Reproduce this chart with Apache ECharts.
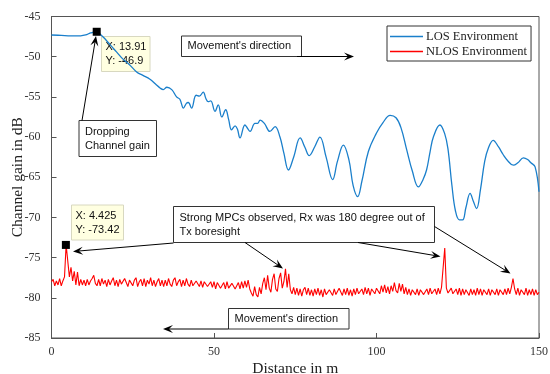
<!DOCTYPE html>
<html>
<head>
<meta charset="utf-8">
<script src="https://cdn.jsdelivr.net/npm/echarts@6/dist/echarts.min.js"></script>
<style>
  html, body { margin: 0; padding: 0; background: #fff; }
  #chart { width: 550px; height: 374px; }
</style>
</head>
<body>
<div id="chart"></div>
<script>
// LOS channel gain as [distance m, gain dB]
const losPoints = [
  [0, -47.3], [3, -47.35], [6, -47.4], [9, -47.4], [10.5, -47.3], [12, -47.05],
  [13.91, -46.9], [15, -47.2], [16.5, -47.8], [18, -48.5], [20, -49.4], [22, -50.3],
  [24, -51.0], [26.2, -51.9], [28, -52.3], [30.3, -52.8], [32, -53.4], [33.4, -53.9],
  [34.4, -54.1], [35.5, -53.8], [37, -54.1], [38.5, -55], [39.5, -55.3], [40.6, -56.4],
  [41.5, -55.8], [42.1, -55.7], [43.1, -56.4], [44.5, -54.8], [45.5, -54.9], [46.7, -54.4],
  [47.5, -55.2], [48.2, -55.6], [49, -55.5], [50.3, -56.8], [51.3, -56], [52.4, -57.5],
  [53.6, -56.6], [54.5, -57.8], [55.4, -59.1], [56.5, -58.6], [57.2, -59.0], [58, -60.1],
  [59.5, -58.5], [60.3, -58.9], [61.1, -59.3], [62.6, -58.3], [63.4, -58.3], [64.2, -57.9],
  [65.5, -58.3], [67.2, -59.3], [68.8, -58.7], [70.3, -60], [71.5, -62], [72.9, -64.1],
  [74.5, -62.5], [76.5, -60.1], [78, -61.3], [79.3, -62.3], [81, -61.2], [82.6, -60],
  [84.5, -62.5], [86.5, -65.3], [88, -63], [89.8, -61], [91.5, -62.8], [92.8, -66],
  [94.2, -67.4], [95.5, -65.5], [97.5, -61.8], [100, -59.5], [102, -58.2], [104.2, -57.3],
  [106, -57.6], [107.5, -58.8], [109.3, -61.6], [111, -64.2], [112.9, -66.2], [114.3, -65.3],
  [115.4, -64.1], [116.5, -61.8], [117.5, -60], [119.5, -58.5], [121, -59.6], [122, -61.5],
  [123.2, -66], [124.3, -69.2], [125.5, -70.3], [126.5, -70.3], [127.5, -68.8], [128.8, -67],
  [129.8, -68], [130.8, -68.9], [132, -66.5], [133.3, -63], [134.4, -61.4], [135.9, -60.4],
  [137.5, -61.2], [139, -62.2], [140.5, -63], [142.1, -63.5], [143.5, -63.2], [145.2, -62.6],
  [146.5, -62.8], [147.5, -63.2], [148.8, -63.7], [150, -66.8]
];

// NLOS channel gain, one reading every 0.5 m from 0 to 150 m
const nlosStep = 0.5;
const nlosGain = [
  -78.0, -77.7, -78.5, -77.9, -78.4, -77.6, -78.5, -77.9, -77.4, -73.4,
  -75.4, -77.4, -76.2, -77.9, -76.7, -78.4, -76.8, -78.5, -77.7, -78.4,
  -77.8, -78.5, -77.7, -78.4, -77.9, -77.6, -77.2, -78.2, -78.5, -77.7,
  -78.5, -77.6, -78.3, -77.8, -78.6, -77.7, -78.4, -77.9, -77.5, -78.5,
  -77.8, -78.6, -77.7, -78.3, -78.5, -77.6, -78.1, -78.6, -77.8, -77.6,
  -78.5, -77.8, -77.5, -78.6, -78.0, -77.7, -78.5, -77.6, -78.6, -77.8,
  -78.3, -77.5, -78.5, -77.8, -78.6, -78.0, -77.6, -78.5, -77.8, -78.6,
  -77.8, -78.5, -77.6, -78.3, -78.6, -77.8, -77.5, -78.5, -78.0, -77.7,
  -78.6, -77.8, -78.5, -77.6, -78.3, -78.6, -77.8, -78.5, -78.7, -77.9,
  -77.8, -78.6, -77.9, -78.7, -78.0, -77.8, -78.6, -78.8, -78.0, -78.7,
  -78.0, -78.9, -78.1, -77.9, -78.8, -79.0, -78.1, -78.9, -78.0, -78.8,
  -79.0, -78.2, -78.0, -78.9, -79.1, -78.1, -78.9, -78.0, -78.8, -77.9,
  -78.7, -77.8, -78.9, -79.4, -79.8, -78.6, -79.6, -79.9, -78.7, -79.5,
  -78.2, -77.5, -79.0, -77.2, -78.8, -79.3, -77.7, -77.0, -78.9, -79.2,
  -77.6, -76.9, -78.8, -78.0, -76.4, -78.7, -77.0, -79.0, -79.5, -78.7,
  -79.6, -78.8, -79.7, -78.9, -79.8, -79.0, -78.7, -79.6, -78.8, -79.7,
  -79.0, -79.8, -78.9, -79.6, -78.8, -79.7, -79.0, -79.9, -78.9, -79.6,
  -79.8, -79.0, -78.8, -79.7, -78.9, -79.6, -79.8, -78.8, -79.0, -79.7,
  -78.9, -79.6, -78.8, -79.7, -79.0, -79.8, -78.9, -79.6, -78.8, -79.5,
  -79.7, -78.9, -79.6, -78.7, -79.5, -78.8, -79.7, -78.9, -78.7, -79.5,
  -78.8, -78.6, -79.5, -78.5, -79.3, -78.4, -79.4, -78.6, -79.5, -78.5,
  -79.2, -78.1, -79.1, -79.4, -78.2, -79.2, -78.3, -79.5, -78.7, -79.6,
  -78.9, -79.7, -79.0, -78.8, -79.6, -78.9, -79.7, -79.0, -78.8, -79.6,
  -79.7, -78.9, -79.6, -78.8, -79.5, -79.7, -78.9, -79.6, -78.8, -79.5,
  -78.7, -78.5, -73.8, -78.8, -79.4, -79.6, -78.8, -79.5, -79.7, -78.9,
  -79.6, -78.8, -79.7, -78.9, -79.6, -79.0, -78.8, -79.7, -78.9, -79.6,
  -79.0, -79.7, -78.8, -79.6, -78.9, -79.7, -79.0, -78.8, -79.6, -78.9,
  -79.7, -79.0, -78.8, -79.6, -78.9, -79.7, -79.0, -78.8, -79.6, -78.9,
  -79.6, -78.8, -79.5, -78.7, -77.6, -78.9, -79.6, -78.8, -79.7, -79.0,
  -78.9, -79.6, -78.8, -79.7, -79.0, -79.6, -78.9, -79.7, -79.0, -79.6,
  -79.3
];

// data tips
const losTip = [13.91, -46.9];
const nlosTip = [4.425, -73.42];

const xTicks = [0, 50, 100, 150];
const yTicks = [-85, -80, -75, -70, -65, -60, -55, -50, -45];

const SERIF = "'Liberation Serif', 'DejaVu Serif', serif";
const SANS = "'Liberation Sans', Arial, sans-serif";
const AXIS_COLOR = "#555";

const chart = echarts.init(document.getElementById("chart"), null, { renderer: "canvas" });

// arrow with a MATLAB-like swept-back head
function arrow(x1, y1, x2, y2) {
  const dx = x2 - x1, dy = y2 - y1;
  const len = Math.sqrt(dx * dx + dy * dy);
  const ux = dx / len, uy = dy / len;
  const nx = -uy, ny = ux;
  const L = 10, W = 4;
  const bx = x2 - ux * L, by = y2 - uy * L;
  const mx = x2 - ux * L * 0.6, my = y2 - uy * L * 0.6;
  return [
    {
      type: "line",
      shape: { x1, y1, x2: mx, y2: my },
      style: { stroke: "#000", lineWidth: 1 },
      z: 100,
    },
    {
      type: "polygon",
      shape: { points: [[x2, y2], [bx + nx * W, by + ny * W], [mx, my], [bx - nx * W, by - ny * W]] },
      style: { fill: "#000" },
      z: 100,
    },
  ];
}

function textBox(x, y, w, h, text, opts = {}) {
  return {
    type: "group",
    x, y, z: 90,
    children: [
      {
        type: "rect",
        shape: { x: 0, y: 0, width: w, height: h },
        style: { fill: opts.fill || "#fff", stroke: opts.stroke || "#333", lineWidth: 1 },
      },
      {
        type: "text",
        x: opts.padX || 6,
        y: h / 2,
        style: {
          text,
          fill: "#111",
          font: (opts.fontSize || 11) + "px " + SANS,
          verticalAlign: "middle",
          lineHeight: opts.lineHeight || 14,
        },
      },
    ],
  };
}

const graphics = [
  // data tip boxes
  textBox(101.5, 36.5, 48.5, 35, "X: 13.91\nY: -46.9", { fill: "#ffffe1", stroke: "#d8d8c0", padX: 4 }),
  textBox(71.5, 205, 52, 35, "X: 4.425\nY: -73.42", { fill: "#ffffe1", stroke: "#d8d8c0", padX: 4 }),
  // annotations
  textBox(79, 120.5, 77.5, 36, "Dropping\nChannel gain"),
  textBox(181.5, 36, 120, 20.5, "Movement's direction"),
  textBox(173.5, 206.5, 261, 36, "Strong MPCs observed, Rx was 180 degree out of\nTx boresight"),
  textBox(228.5, 308.5, 120.5, 20.5, "Movement's direction"),
  ...arrow(82, 120.5, 96, 36),
  ...arrow(297, 56.5, 354, 56.5),
  ...arrow(228.5, 329, 163, 329),
  ...arrow(173.5, 243, 73, 251.5),
  ...arrow(245, 242.5, 283, 268.5),
  ...arrow(358, 242.5, 440.5, 256.5),
  ...arrow(434.5, 226.5, 510.5, 273.5),
];

const tipMarker = (coord) => ({
  symbol: "rect",
  symbolSize: 8,
  itemStyle: { color: "#000" },
  label: { show: false },
  data: [{ coord }],
});

const option = {
  animation: false,
  backgroundColor: "#fff",
  grid: {
    left: 51.5,
    right: 11,
    top: 16.5,
    bottom: 36,
    containLabel: false,
    outerBoundsMode: "none",
    show: true,
    borderColor: AXIS_COLOR,
    borderWidth: 1,
    backgroundColor: "transparent",
  },
  legend: {
    orient: "vertical",
    left: 387,
    top: 26,
    padding: [4, 4, 3, 3],
    itemGap: 2,
    itemWidth: 33,
    itemHeight: 1.5,
    icon: "rect",
    borderColor: "#333",
    borderWidth: 1,
    backgroundColor: "#fff",
    textStyle: { fontFamily: SERIF, fontSize: 12.5, color: "#222", padding: [0, 0, 0, -2] },
    data: ["LOS Environment", "NLOS Environment"],
    z: 120,
  },
  xAxis: {
    type: "value",
    min: xTicks[0],
    max: xTicks[xTicks.length - 1],
    interval: 50,
    name: "Distance in m",
    nameLocation: "middle",
    nameGap: 23,
    nameMoveOverlap: false,
    nameTextStyle: { fontFamily: SERIF, fontSize: 15.5, color: "#222" },
    axisLine: { show: true, lineStyle: { color: AXIS_COLOR } },
    axisTick: { show: true, inside: true, length: 5, lineStyle: { color: AXIS_COLOR } },
    axisLabel: { fontFamily: SERIF, fontSize: 12, color: "#333", margin: 8 },
    splitLine: { show: false },
  },
  yAxis: {
    type: "value",
    min: yTicks[0],
    max: yTicks[yTicks.length - 1],
    interval: 5,
    name: "Channel gain in dB",
    nameLocation: "middle",
    nameGap: 26,
    nameMoveOverlap: false,
    nameTextStyle: { fontFamily: SERIF, fontSize: 15.5, color: "#222" },
    axisLine: { show: true, lineStyle: { color: AXIS_COLOR } },
    axisTick: { show: true, inside: true, length: 5, lineStyle: { color: AXIS_COLOR } },
    axisLabel: { fontFamily: SERIF, fontSize: 12, color: "#333", margin: 11 },
    splitLine: { show: false },
  },
  series: [
    {
      name: "LOS Environment",
      type: "line",
      smooth: 0.4,
      showSymbol: false,
      symbol: "none",
      lineStyle: { color: "#1a7fcb", width: 1.3 },
      itemStyle: { color: "#1a7fcb" },
      data: losPoints,
      markPoint: tipMarker(losTip),
      z: 3,
    },
    {
      name: "NLOS Environment",
      type: "line",
      showSymbol: false,
      symbol: "none",
      lineStyle: { color: "#ff0000", width: 1.1 },
      itemStyle: { color: "#ff0000" },
      data: nlosGain.map((v, i) => [i * nlosStep, v]),
      markPoint: tipMarker(nlosTip),
      z: 2,
    },
  ],
  graphic: graphics,
};

chart.setOption(option);
</script>
</body>
</html>
